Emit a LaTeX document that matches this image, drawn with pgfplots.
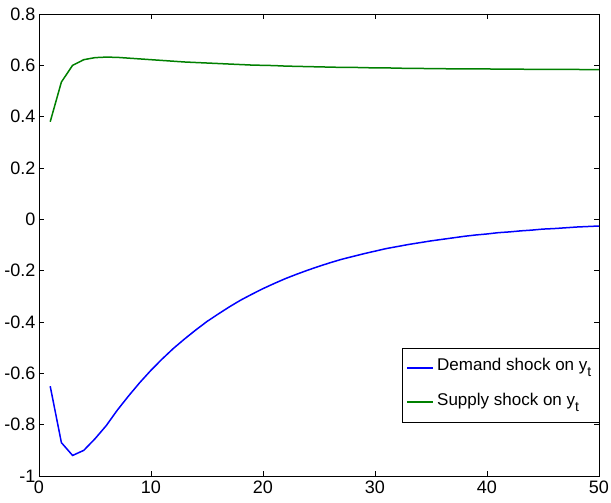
\documentclass[border=0pt]{standalone}
\usepackage{fontspec}
\setmainfont{Liberation Sans}
\usepackage{pgfplots}
\pgfplotsset{compat=1.18}
\definecolor{mblue}{RGB}{0,0,255}
\definecolor{mgreen}{RGB}{0,128,0}
\newcommand{\subt}{\raisebox{-0.6ex}{\fontsize{14}{14}\selectfont t}}

\pgfplotstableread{
t demand supply
1 -0.650 0.380
2 -0.870 0.535
3 -0.920 0.600
4 -0.900 0.622
5 -0.855 0.630
6 -0.804 0.632
7 -0.743 0.631
8 -0.688 0.628
9 -0.636 0.625
10 -0.588 0.622
11 -0.544 0.619
12 -0.503 0.616
13 -0.466 0.613
14 -0.431 0.611
15 -0.398 0.609
16 -0.369 0.607
17 -0.341 0.605
18 -0.315 0.603
19 -0.292 0.601
20 -0.270 0.600
21 -0.250 0.599
22 -0.231 0.597
23 -0.214 0.596
24 -0.198 0.595
25 -0.183 0.594
26 -0.169 0.593
27 -0.156 0.592
28 -0.145 0.592
29 -0.134 0.591
30 -0.124 0.590
31 -0.114 0.590
32 -0.106 0.589
33 -0.098 0.588
34 -0.091 0.588
35 -0.084 0.587
36 -0.078 0.587
37 -0.072 0.586
38 -0.066 0.586
39 -0.061 0.586
40 -0.057 0.586
41 -0.052 0.585
42 -0.049 0.585
43 -0.045 0.585
44 -0.042 0.584
45 -0.038 0.584
46 -0.036 0.584
47 -0.033 0.584
48 -0.030 0.584
49 -0.028 0.583
50 -0.026 0.583
}\irf

\begin{document}
\begin{tikzpicture}
\begin{axis}[
  width=560pt, height=462pt, scale only axis,
  xmin=0, xmax=50, ymin=-1, ymax=0.8,
  xtick={0,10,...,50},
  ytick={-1,-0.8,...,0.8},
  yticklabels={-1,-0.8,-0.6,-0.4,-0.2,0,0.2,0.4,0.6,0.8},
  tick align=inside,
  major tick length=5pt,
  axis line style={line width=0.9pt},
  every tick/.style={black, line width=0.8pt},
  tick label style={font=\fontsize{18}{21}\selectfont},
  /pgf/number format/assume math mode=true,
  xticklabel style={yshift=-1pt},
]
\addplot[mblue, line width=1.5pt] table[x=t, y=demand] {\irf};
\addplot[mgreen, line width=1.5pt] table[x=t, y=supply] {\irf};
\end{axis}
% legend box (drawn by hand; pgfplots' legend lost its line colours here)
\draw[black, line width=0.8pt, fill=white] (363pt,54pt) rectangle (560pt,128pt);
\draw[mblue, line width=1.3pt] (368pt,108pt) -- (394pt,108pt);
\draw[mgreen, line width=1.3pt] (368pt,74pt) -- (394pt,74pt);
\node[anchor=base west, inner sep=0pt, font=\fontsize{17}{20}\selectfont] at (398pt,105pt) {Demand shock on y\subt};
\node[anchor=base west, inner sep=0pt, font=\fontsize{17}{20}\selectfont] at (398pt,70pt) {Supply shock on y\subt};
\pgfresetboundingbox
\useasboundingbox (-39pt,-27pt) rectangle (572pt,476pt);
\end{tikzpicture}
\end{document}
